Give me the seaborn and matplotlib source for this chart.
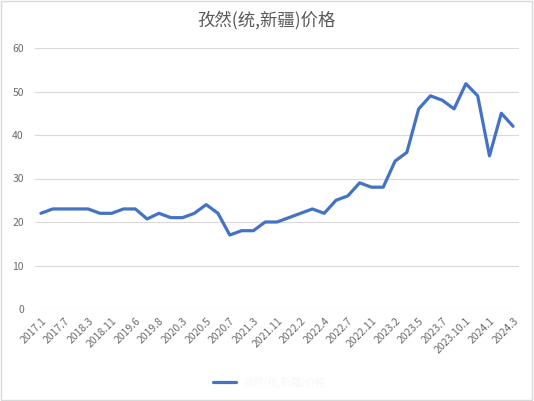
import matplotlib
matplotlib.use("Agg")
import matplotlib.pyplot as plt
import seaborn as sns
import pandas as pd
import numpy as np

title = "孜然(统,新疆)价格"
series_name = "孜然(统,新疆)价格"

# values per point (41 points, labels shown on every other point)
prices = [22, 23, 23, 23, 23, 22, 22, 23, 23, 20.7,
          22, 21, 21, 22, 24, 22, 17, 18, 18, 20,
          20, 21, 22, 23, 22, 25, 26, 29, 28, 28,
          34, 36, 46, 49, 48, 46, 51.8, 49, 35.2, 45, 42]

tick_labels = ["2017.1", "2017.7", "2018.3", "2018.11", "2019.6", "2019.8",
               "2020.3", "2020.5", "2020.7", "2021.3", "2021.11", "2022.2",
               "2022.4", "2022.7", "2022.11", "2023.2", "2023.5", "2023.7",
               "2023.10.1", "2024.1", "2024.3"]

y_ticks = [0, 10, 20, 30, 40, 50, 60]

sns.set_theme(style="white")
plt.rcParams['font.family'] = ['Noto Sans CJK SC', 'DejaVu Sans']

df = pd.DataFrame({"idx": np.arange(len(prices)), "price": prices})

fig = plt.figure(figsize=(5.34, 4.01), dpi=100)
ax = fig.add_axes([35/534, 1 - 309/401, 484/534, 261/401])

sns.lineplot(data=df, x="idx", y="price", ax=ax, color="#4472C4",
             linewidth=2.3, label=series_name, legend=False)

ax.set_xlim(-0.5, len(prices) - 0.5)
ax.set_ylim(0, 60)
ax.set_yticks(y_ticks)
ax.set_yticklabels([str(v) for v in y_ticks])
ax.set_xticks(np.arange(0, len(prices), 2))
ax.set_xticklabels(tick_labels, rotation=45, ha="right", rotation_mode="anchor")
ax.tick_params(axis="both", colors="#6b6b6b", labelsize=7.5, length=0)
ax.tick_params(axis="x", pad=5)
ax.tick_params(axis="y", pad=8)
ax.grid(axis="y", color="#d9d9d9", linewidth=0.8)
ax.set_axisbelow(True)
for s in ax.spines.values():
    s.set_visible(False)
ax.set_xlabel("")
ax.set_ylabel("")

fig.text(0.5, 1 - 20/401, title, ha="center", va="center",
         fontsize=12.5, color="#595959")

# legend at bottom
handles, labels = ax.get_legend_handles_labels()
leg = fig.legend(handles, labels, loc="center", bbox_to_anchor=(0.505, 1 - 382/401),
                 frameon=False, fontsize=7.5, handlelength=2.2)
for t in leg.get_texts():
    t.set_color("#f7f7f7")

# chart border
fig.patches.append(plt.Rectangle((0.002, 0.003), 0.995, 0.994, transform=fig.transFigure,
                                 fill=False, edgecolor="#d9d9d9", linewidth=1.0))

fig.savefig("out.png", dpi=100)
